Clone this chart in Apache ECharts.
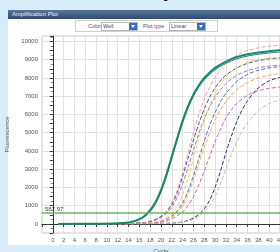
<!DOCTYPE html>
<html>
<head>
<meta charset="utf-8">
<script src="https://cdn.jsdelivr.net/npm/echarts@6.0.0/dist/echarts.min.js"></script>
<style>
    body {margin: 0; width: 280px; height: 252px; overflow: hidden; background: #d9edf8; position: relative;
        font-family: 'Liberation Sans', Arial, sans-serif;}
    .big-title {position: absolute; left: 0; top: -23px; width: 296px; text-align: center; white-space: nowrap;
        font-size: 23px; line-height: 22px; font-weight: bold; color: #111;}
    .panel {position: absolute; left: 8px; top: 10px; width: 272px; height: 235px; background: #fff;}
    .panel-head {height: 9px; background: linear-gradient(#58759c, #2f4b74); color: #eef2f8;
        font-size: 6px; line-height: 9px; padding-left: 4px;}
    .toolbar {position: absolute; left: 67px; top: 10px; width: 141px; height: 10px; border: 1px solid #cfcfcf; background: #fff;}
    .toolbar span {position: absolute; top: 2px; font-size: 5.5px; line-height: 6px; color: #555;}
    .combo {position: absolute; top: 1px; width: 35px; height: 7px; border: 1px solid #b8b8b8; background: #fff;
        font-size: 5.5px; line-height: 7px; color: #444; text-indent: 1px;}
    .combo i {position: absolute; right: 0; top: 0; width: 8px; height: 7px; background: #2f6fc4;}
    .combo i:after {content: ''; position: absolute; left: 2px; top: 2px; border-left: 2px solid transparent;
        border-right: 2px solid transparent; border-top: 3px solid #fff;}
    #chart {position: absolute; left: 0; top: 0; width: 280px; height: 252px;}
</style>
</head>
<body>
<div class="big-title">Fluorescence quantification</div>
<div class="panel">
    <div class="panel-head">Amplification Plot</div>
    <div class="toolbar">
        <span style="left:12px">Color</span>
        <div class="combo" style="left:25px">Well<i></i></div>
        <span style="left:67px">Plot type</span>
        <div class="combo" style="left:93px">Linear<i></i></div>
    </div>
</div>
<div id="chart"></div>
<script>
    // threshold line
    var threshold = 587.97;

    // axis ticks
    var xMin = -2, xMax = 42, xStep = 2;
    var yMin = -500, yMax = 10300, yStep = 500;

    // curves, [cycle, fluorescence]
    var tealWell = [[1,0],[8,5],[12,30],[14,80],[15,150],[16,260],[17,450],[18,750],[19,1200],[20,1850],[21,2700],[22,3700],[23,4700],[24,5650],[25,6450],[26,7100],[27,7600],[28,8000],[30,8550],[32,8900],[34,9150],[36,9300],[38,9400],[40,9470],[42,9520]];
    var greenWell = [[1,0],[8,5],[12,25],[14,70],[15,130],[16,230],[17,400],[18,680],[19,1100],[20,1750],[21,2600],[22,3600],[23,4600],[24,5550],[25,6350],[26,7000],[27,7500],[28,7900],[30,8450],[32,8800],[34,9050],[36,9200],[38,9300],[40,9370],[42,9420]];
    var salmonWell = [[1,0],[10,5],[14,20],[17,80],[18,140],[19,250],[20,420],[21,700],[22,1150],[23,1850],[24,2800],[25,3900],[26,5000],[27,6000],[28,6850],[29,7500],[30,8050],[31,8450],[32,8800],[34,9250],[36,9500],[38,9650],[40,9750],[42,9800]];
    var navyWell = [[1,0],[10,5],[14,20],[17,80],[18,140],[19,240],[20,400],[21,650],[22,1050],[23,1700],[24,2600],[25,3600],[26,4600],[27,5500],[28,6300],[29,6950],[30,7450],[31,7850],[32,8150],[34,8550],[36,8800],[38,8950],[40,9050],[42,9100]];
    var plumWell = [[1,0],[10,5],[14,15],[17,60],[18,110],[19,200],[20,340],[21,560],[22,900],[23,1450],[24,2200],[25,3100],[26,4050],[27,4950],[28,5750],[29,6400],[30,6950],[31,7350],[32,7700],[34,8150],[36,8400],[38,8560],[40,8650],[42,8700]];
    var blueWell = [[1,0],[12,5],[16,20],[19,70],[20,140],[21,260],[22,440],[23,720],[24,1150],[25,1800],[26,2650],[27,3600],[28,4550],[29,5400],[30,6100],[31,6700],[32,7150],[34,7800],[36,8200],[38,8420],[40,8550],[42,8620]];
    var yellowWell = [[1,0],[12,5],[16,20],[19,90],[20,180],[21,330],[22,560],[23,950],[24,1600],[25,2500],[26,3600],[27,4700],[28,5700],[29,6500],[30,7150],[31,7650],[32,8050],[34,8550],[36,8850],[38,9000],[40,9080],[42,9120]];
    var orangeWell = [[1,0],[12,5],[16,20],[19,60],[20,120],[21,220],[22,380],[23,620],[24,1000],[25,1600],[26,2400],[27,3300],[28,4200],[29,5000],[30,5700],[31,6250],[32,6700],[34,7350],[36,7750],[38,8000],[40,8150],[42,8250]];
    var magentaWell = [[1,0],[14,5],[18,30],[20,90],[21,160],[22,280],[23,450],[24,650],[25,1000],[26,1500],[27,2150],[28,2900],[29,3700],[30,4500],[31,5200],[32,5800],[33,6250],[34,6600],[36,7050],[38,7300],[40,7430],[42,7500]];
    var darkNavyWell = [[1,0],[16,5],[20,20],[23,60],[24,110],[25,190],[26,320],[27,520],[28,820],[29,1300],[30,2000],[31,2900],[32,3900],[33,4800],[34,5600],[35,6250],[36,6750],[37,7150],[38,7450],[40,7850],[42,8030]];
    var greyWell = [[1,0],[16,5],[20,20],[23,50],[24,90],[25,150],[26,260],[27,420],[28,650],[29,1000],[30,1500],[31,2200],[32,3000],[33,3800],[34,4500],[35,5100],[36,5550],[37,5900],[38,6200],[40,6600],[42,6800]];

    var wells = [
        {name: 'A1', data: tealWell, color: '#128a7c', dash: 'solid', width: 2},
        {name: 'A2', data: greenWell, color: '#2f7f55', dash: 'solid', width: 1},
        {name: 'B1', data: salmonWell, color: '#f3a59d', dash: [4, 2], width: 1},
        {name: 'B2', data: navyWell, color: '#4053a0', dash: [4, 2], width: 1},
        {name: 'B3', data: plumWell, color: '#a27bbf', dash: [4, 2], width: 1},
        {name: 'B4', data: blueWell, color: '#5b6db3', dash: [4, 2], width: 1},
        {name: 'C1', data: yellowWell, color: '#f4cf55', dash: [4, 2], width: 1},
        {name: 'C2', data: orangeWell, color: '#f2ad4e', dash: [4, 2], width: 1},
        {name: 'D1', data: magentaWell, color: '#c466b8', dash: [4, 2], width: 1},
        {name: 'E1', data: darkNavyWell, color: '#27306e', dash: [4, 2], width: 1},
        {name: 'E2', data: greyWell, color: '#bcc4b0', dash: [4, 2], width: 1}
    ];

    var labelFont = {fontSize: 6, color: '#555', fontFamily: 'Liberation Sans'};

    var series = wells.map(function (w) {
        return {
            name: w.name,
            type: 'line',
            data: w.data,
            smooth: 0.3,
            showSymbol: false,
            silent: true,
            z: w.dash === 'solid' ? 4 : 3,
            lineStyle: {color: w.color, width: w.width, type: w.dash}
        };
    });
    // threshold on the first series
    series[0].markLine = {
        silent: true,
        symbol: 'none',
        animation: false,
        lineStyle: {color: '#6db35b', width: 1.5, type: 'solid'},
        label: {
            position: 'insideStartTop',
            distance: [3, 1],
            fontSize: 6,
            color: '#444',
            formatter: String(threshold)
        },
        data: [{yAxis: threshold}]
    };

    var myChart = echarts.init(document.getElementById('chart'));
    var option = {
        backgroundColor: 'transparent',
        animation: false,
        grid: {
            left: 42, top: 36, right: 0, bottom: 19,
            containLabel: false,
            outerBoundsMode: 'none',
            show: true,
            borderColor: '#c8c8c8',
            borderWidth: 1
        },
        xAxis: {
            type: 'value',
            min: xMin, max: xMax, interval: xStep,
            name: 'Cycle',
            nameLocation: 'middle',
            nameGap: 12,
            nameTextStyle: labelFont,
            axisLine: {show: true, lineStyle: {color: '#333', width: 1}},
            axisTick: {show: true, length: 3, lineStyle: {color: '#333'}},
            axisLabel: Object.assign({margin: 4, formatter: function (v) { return v < 0 ? '' : v; }}, labelFont),
            splitLine: {show: true, lineStyle: {color: '#e1e1e1', width: 1}}
        },
        yAxis: {
            type: 'value',
            min: yMin, max: yMax, interval: yStep,
            name: 'Fluorescence',
            nameLocation: 'middle',
            nameGap: 26,
            nameTextStyle: labelFont,
            axisLine: {show: true, lineStyle: {color: '#333', width: 1}},
            axisTick: {show: true, length: 3, lineStyle: {color: '#333'}},
            minorTick: {show: true, splitNumber: 2, length: 1.5, lineStyle: {color: '#555'}},
            axisLabel: Object.assign({margin: 4, formatter: function (v) { return v % 1000 === 0 ? v : ''; }}, labelFont),
            // only every 1000 gets a line
            splitLine: {show: true, lineStyle: {color: ['transparent', '#e1e1e1'], width: 1}}
        },
        series: series
    };
    myChart.setOption(option);
</script>
</body>
</html>
